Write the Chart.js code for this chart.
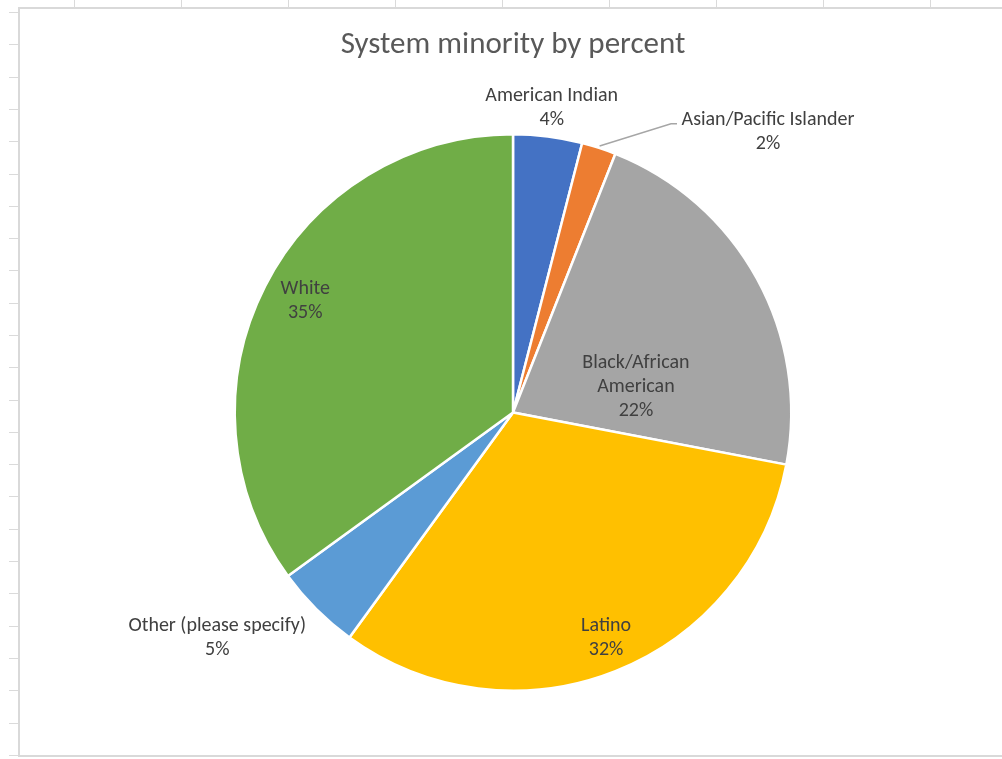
<!DOCTYPE html>
<html>
<head>
<meta charset="utf-8">
<title>System minority by percent</title>
<script src="https://cdn.jsdelivr.net/npm/chart.js@4.4.0/dist/chart.umd.min.js"></script>
<style>
  html, body { margin: 0; padding: 0; background: #fff; }
  #wrap { position: relative; width: 1002px; height: 759px; }
</style>
</head>
<body>
<div id="wrap">
  <canvas id="pie" width="1002" height="759"></canvas>
</div>
<script>
// share of each group in the system
const categories = ['American Indian', 'Asian/Pacific Islander', 'Black/African American', 'Latino', 'Other (please specify)', 'White'];
const percents = [4, 2, 22, 32, 5, 35];
const sliceColors = ['#4472C4', '#ED7D31', '#A5A5A5', '#FFC000', '#5B9BD5', '#70AD47'];

// how each label is broken into lines
const labelLines = [
  ['American Indian'],
  ['Asian/Pacific Islander'],
  ['Black/African', 'American'],
  ['Latino'],
  ['Other (please specify)'],
  ['White']
];

const FONT = 'Carlito, Calibri, Lato, sans-serif';

// label anchor: fraction of the radius along the mid angle, then a nudge in px
const labelPlace = [
  { r: 1.11, dx: 0, dy: 2 },
  { r: 1.0, dx: 169, dy: -16 },
  { r: 0.5, dx: 1, dy: 42 },
  { r: 0.87, dx: 4, dy: 0 },
  { r: 1.3, dx: -40, dy: -30 },
  { r: 0.85, dx: 3, dy: -4 }
];

// worksheet gridlines and the chart frame behind everything
const sheetBackground = {
  id: 'sheetBackground',
  beforeDraw(chart) {
    const ctx = chart.ctx;
    ctx.save();
    ctx.fillStyle = '#ffffff';
    ctx.fillRect(0, 0, chart.width, chart.height);
    ctx.strokeStyle = '#dadada';
    ctx.lineWidth = 1;
    for (let x = 74.5; x < chart.width; x += 107) {
      ctx.beginPath();
      ctx.moveTo(x, 0);
      ctx.lineTo(x, 8);
      ctx.stroke();
    }
    for (let i = 0; i < 24; i++) {
      const y = Math.round(12 + i * 32.3) + 0.5;
      ctx.beginPath();
      ctx.moveTo(9, y);
      ctx.lineTo(19, y);
      ctx.stroke();
    }
    ctx.strokeStyle = '#d9d9d9';
    ctx.lineWidth = 2;
    ctx.strokeRect(19, 8, chart.width + 20, 748);
    ctx.restore();
  }
};

// title and the data labels (with a leader line for the thin slice)
const pieText = {
  id: 'pieText',
  afterDraw(chart) {
    const ctx = chart.ctx;
    ctx.save();
    ctx.textAlign = 'center';
    ctx.textBaseline = 'middle';
    ctx.fillStyle = '#595959';
    ctx.font = '31px ' + FONT;
    ctx.fillText('System minority by percent', 513, 45);

    const meta = chart.getDatasetMeta(0);
    ctx.font = '20px ' + FONT;
    meta.data.forEach((arc, i) => {
      const p = arc.getProps(['x', 'y', 'startAngle', 'endAngle', 'outerRadius'], true);
      const mid = (p.startAngle + p.endAngle) / 2;
      const place = labelPlace[i];
      const lx = p.x + Math.cos(mid) * p.outerRadius * place.r + place.dx;
      const ly = p.y + Math.sin(mid) * p.outerRadius * place.r + place.dy;
      const lines = labelLines[i].concat([percents[i] + '%']);
      const lh = 24;
      const top = ly - (lines.length - 1) * lh / 2;

      if (i === 1) {
        const sx = p.x + Math.cos(mid) * (p.outerRadius + 2);
        const sy = p.y + Math.sin(mid) * (p.outerRadius + 2);
        const ex = lx - 97;
        const ey = top + 4;
        ctx.strokeStyle = '#a6a6a6';
        ctx.lineWidth = 1.5;
        ctx.beginPath();
        ctx.moveTo(sx, sy);
        ctx.lineTo(ex, ey);
        ctx.lineTo(ex + 6, ey);
        ctx.stroke();
      }

      ctx.fillStyle = '#404040';
      lines.forEach((t, k) => ctx.fillText(t, lx, top + k * lh));
    });
    ctx.restore();
  }
};

new Chart(document.getElementById('pie'), {
  type: 'pie',
  data: {
    labels: categories,
    datasets: [{
      data: percents,
      backgroundColor: sliceColors,
      borderColor: '#ffffff',
      borderWidth: 2.5
    }]
  },
  options: {
    responsive: false,
    animation: false,
    layout: { padding: { top: 133, bottom: 67, left: 40, right: 16 } },
    plugins: {
      legend: { display: false },
      tooltip: { enabled: false },
      title: { display: false }
    }
  },
  plugins: [sheetBackground, pieText]
});
</script>
</body>
</html>
